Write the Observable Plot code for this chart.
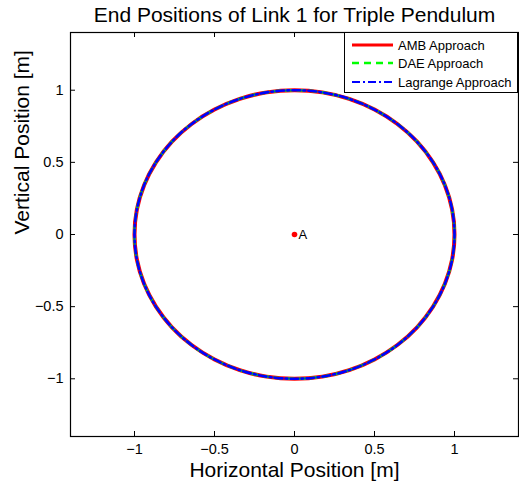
<!DOCTYPE html>
<html><head><meta charset="utf-8">
<script src="https://cdn.jsdelivr.net/npm/d3@7"></script>
<script src="https://cdn.jsdelivr.net/npm/@observablehq/plot@0.6"></script>
<style>
body{margin:0;background:#fff;font-family:"Liberation Sans",Arial,Helvetica,sans-serif;}
#wrap{position:relative;width:519px;height:487px;}
#legend{position:absolute;left:344px;top:32px;width:174px;height:61px;border:1px solid #000;background:#fff;box-sizing:border-box;}
#legend svg{display:block;}
</style></head><body><div id="wrap"></div>
<script>
// End positions of link 1 (unit circle traced by the tip), sampled every 10 degrees
const circleX = [1, 0.985, 0.940, 0.866, 0.766, 0.643, 0.500, 0.342, 0.174, 0,
  -0.174, -0.342, -0.500, -0.643, -0.766, -0.866, -0.940, -0.985, -1,
  -0.985, -0.940, -0.866, -0.766, -0.643, -0.500, -0.342, -0.174, 0,
  0.174, 0.342, 0.500, 0.643, 0.766, 0.866, 0.940, 0.985];
const circleY = [0, 0.174, 0.342, 0.500, 0.643, 0.766, 0.866, 0.940, 0.985, 1,
  0.985, 0.940, 0.866, 0.766, 0.643, 0.500, 0.342, 0.174, 0,
  -0.174, -0.342, -0.500, -0.643, -0.766, -0.866, -0.940, -0.985, -1,
  -0.985, -0.940, -0.866, -0.766, -0.643, -0.500, -0.342, -0.174];
const seriesNames = ["AMB Approach", "DAE Approach", "Lagrange Approach"];
const seriesColors = ["#ff0000", "#00ff00", "#0000ff"];
const pivotPoint = {x: 0, y: 0, label: "A"};
const xTicks = [-1, -0.5, 0, 0.5, 1];
const yTicks = [-1, -0.5, 0, 0.5, 1];
const xTickLabels = ["\u22121", "\u22120.5", "0", "0.5", "1"];
const yTickLabels = ["\u22121", "\u22120.5", "0", "0.5", "1"];
const titleText = "End Positions of Link 1 for Triple Pendulum";
const xLabel = "Horizontal Position [m]";
const yLabel = "Vertical Position [m]";

const pts = circleX.map((x, i) => ({x, y: circleY[i]}));
const styles = [
  {strokeWidth: 4, strokeDasharray: null, legendWidth: 3.2},
  {strokeWidth: 2.6, strokeDasharray: "7,5", legendWidth: 2.4},
  {strokeWidth: 2.6, strokeDasharray: "8,3,2,3", legendWidth: 1.8}
];

const W = 519, H = 487, mL = 70, mR = 1, mT = 32, mB = 51;
const fw = W - mL - mR, fh = H - mT - mB, tk = 5;

const chart = Plot.plot({
  width: W, height: H,
  marginLeft: mL, marginRight: mR, marginTop: mT, marginBottom: mB,
  style: {fontFamily: '"Liberation Sans", Arial, Helvetica, sans-serif', background: "#fff", color: "#000"},
  x: {domain: [-1.4, 1.4]},
  y: {domain: [-1.4, 1.4]},
  marks: [
    ...seriesNames.map((n, i) => Plot.line(pts, {x: "x", y: "y", curve: "catmull-rom-closed",
      stroke: seriesColors[i], strokeWidth: styles[i].strokeWidth, strokeDasharray: styles[i].strokeDasharray})),
    Plot.dot([pivotPoint], {x: "x", y: "y", r: 2.8, fill: "#ff0000", stroke: null}),
    Plot.text([pivotPoint], {x: "x", y: "y", text: "label", textAnchor: "start", dx: 4, fontSize: 13, fill: "#000"}),
    Plot.tickX(xTicks, {x: d => d, insetTop: fh - tk, stroke: "#000"}),
    Plot.tickX(xTicks, {x: d => d, insetBottom: fh - tk, stroke: "#000"}),
    Plot.tickY(yTicks, {y: d => d, insetRight: fw - tk, stroke: "#000"}),
    Plot.tickY(yTicks, {y: d => d, insetLeft: fw - tk, stroke: "#000"}),
    Plot.axisX({anchor: "bottom", ticks: xTicks, tickSize: 0, tickPadding: 7, fontSize: 14.5,
      tickFormat: d => xTickLabels[xTicks.indexOf(d)], label: null}),
    Plot.axisY({anchor: "left", ticks: yTicks, tickSize: 0, tickPadding: 7, fontSize: 14.5,
      tickFormat: d => yTickLabels[yTicks.indexOf(d)], label: null}),
    Plot.frame({stroke: "#000", strokeWidth: 1.2}),
    Plot.text([titleText], {frameAnchor: "top", dy: -17, lineAnchor: "middle", fontSize: 21, fill: "#000"}),
    Plot.text([xLabel], {frameAnchor: "bottom", dy: 34, lineAnchor: "middle", fontSize: 21, fill: "#000"}),
    Plot.text([yLabel], {frameAnchor: "left", dx: -48, rotate: -90, lineAnchor: "middle", fontSize: 21, fill: "#000"})
  ]
});
const wrap = document.getElementById("wrap");
wrap.appendChild(chart);

// legend
const leg = document.createElement("div");
leg.id = "legend";
const ns = "http://www.w3.org/2000/svg";
const svg = document.createElementNS(ns, "svg");
svg.setAttribute("width", 172); svg.setAttribute("height", 59);
const rowY = [12, 30, 49];
seriesNames.forEach((n, i) => {
  const ln = document.createElementNS(ns, "line");
  ln.setAttribute("x1", 7); ln.setAttribute("x2", 48);
  ln.setAttribute("y1", rowY[i]); ln.setAttribute("y2", rowY[i]);
  ln.setAttribute("stroke", seriesColors[i]);
  ln.setAttribute("stroke-width", styles[i].legendWidth);
  if (styles[i].strokeDasharray) ln.setAttribute("stroke-dasharray", styles[i].strokeDasharray);
  svg.appendChild(ln);
  const t = document.createElementNS(ns, "text");
  t.setAttribute("x", 53); t.setAttribute("y", rowY[i]);
  t.setAttribute("dy", "0.36em");
  t.setAttribute("font-size", 13);
  t.setAttribute("font-family", '"Liberation Sans", Arial, sans-serif');
  t.textContent = n;
  svg.appendChild(t);
});
leg.appendChild(svg);
wrap.appendChild(leg);
</script>
</body></html>
